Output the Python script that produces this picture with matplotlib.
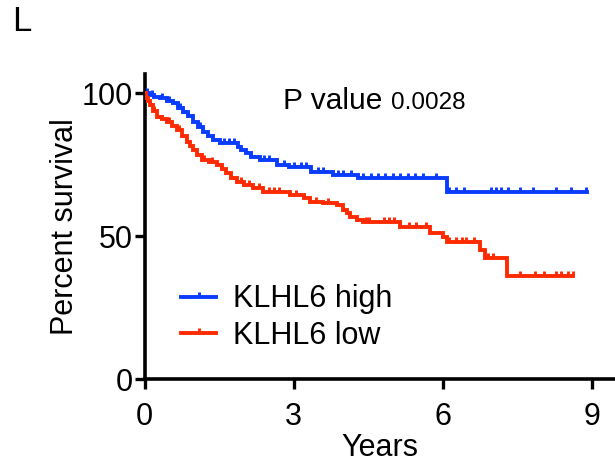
import numpy as np
import matplotlib.pyplot as plt
from matplotlib.lines import Line2D

plt.rcParams['font.family'] = ['Liberation Sans', 'DejaVu Sans']

# KLHL6 high: step times (years) and survival (%) after each step
high_t = [0, 0.1, 0.2, 0.31, 0.45, 0.58, 0.68, 0.78, 0.88, 0.98, 1.08, 1.18, 1.28,
          1.38, 1.52, 1.88, 1.95, 2.05, 2.15, 2.32, 2.66, 2.9, 3.36, 3.80, 4.30, 6.08]
high_s = [100, 99.3, 98.8, 98.2, 97.2, 96.5, 95, 93.6, 92, 90.1, 88.3, 86.6, 85.2,
          83.7, 82.5, 81.2, 80.2, 79, 77.8, 76.7, 74.9, 74.3, 72.6, 71.4, 70.2, 65.6]
high_end = 8.9
high_cens = [0.05, 0.15, 0.35, 0.5, 0.72, 1.12, 1.6, 1.7, 1.8, 2.4, 2.5, 2.8, 3.0,
             3.15, 3.25, 3.5, 3.6, 3.9, 4.0, 4.15, 4.4, 4.55, 4.7, 4.85, 5.0, 5.15,
             5.3, 5.45, 5.6, 5.87, 6.13, 6.27, 6.44, 6.98, 7.08, 7.18, 7.31, 7.55,
             7.82, 8.29, 8.59, 8.89]

# KLHL6 low
low_t = [0, 0.03, 0.06, 0.11, 0.18, 0.25, 0.35, 0.45, 0.55, 0.65, 0.75, 0.85, 0.92,
         0.98, 1.06, 1.15, 1.3, 1.45, 1.55, 1.65, 1.75, 1.86, 2.0, 2.19, 2.39, 2.93,
         3.2, 3.33, 3.6, 3.87, 4.0, 4.07, 4.13, 4.27, 4.4, 5.14, 5.74, 6.01, 6.08,
         6.75, 6.85, 7.29]
low_s = [100, 98.5, 97.2, 95.9, 93.8, 91.8, 91, 90.1, 88.7, 87.2, 85.2, 83.1, 81.6,
         80.2, 78.5, 76.7, 75.8, 74.9, 73.4, 72.0, 70.5, 69.1, 68, 66.7, 65.6, 64.4,
         63.2, 62.1, 61.5, 60.9, 59.2, 58, 56.8, 55.7, 55.1, 53.1, 51.0, 49.8, 48.1,
         45.2, 42.2, 36.1]
low_end = 8.63
low_cens = [0.2, 0.5, 0.7, 1.2, 1.35, 1.95, 2.1, 2.3, 2.5, 2.6, 2.7, 3.05, 3.45, 3.7,
            4.45, 4.52, 4.82, 4.92, 5.03, 5.33, 5.46, 5.66, 6.13, 6.27, 6.4, 6.47,
            6.64, 6.91, 7.01, 7.55, 7.85, 8.05, 8.29, 8.39, 8.52, 8.63]

labels = ['KLHL6 high', 'KLHL6 low']
colors = ['#0a3cff', '#ff2a00']

tick_up = [(0, 0), (0, 1)]


def draw_km(ax, t, s, end, cens, color):
    t = np.array(t + [end])
    s = np.array(s + [s[-1]])
    ax.step(t, s, where='post', color=color, lw=2.8, solid_joinstyle='miter',
            zorder=3)
    idx = np.searchsorted(t, cens, side='right') - 1
    ax.plot(cens, s[idx], ls='none', marker=tick_up, ms=7.5, mew=2.1,
            color=color, zorder=3)


fig = plt.figure(figsize=(6.15, 4.63), dpi=100)
ax = fig.add_axes([0.235, 0.1814, 0.765, 0.659])

draw_km(ax, high_t, high_s, high_end, high_cens, colors[0])
draw_km(ax, low_t, low_s, low_end, low_cens, colors[1])

ax.set_xlim(0, 9.47)
ax.set_ylim(0, 106.8)
ax.set_xticks([0, 3, 6, 9])
ax.set_yticks([0, 50, 100])
for sp in ['top', 'right']:
    ax.spines[sp].set_visible(False)
for sp in ['left', 'bottom']:
    ax.spines[sp].set_linewidth(2.6)
ax.tick_params(width=2.4, length=7.5, labelsize=22, direction='out')
ax.tick_params(axis='x', pad=9)
ax.tick_params(axis='y', pad=1)

ax.set_xlabel('Years', fontsize=22, labelpad=0.5)
ax.set_ylabel('Percent survival', fontsize=22, labelpad=1)

ax.text(0.295, 0.885, 'P value', transform=ax.transAxes, fontsize=21.5,
        ha='left', va='baseline')
ax.text(0.523, 0.885, '0.0028', transform=ax.transAxes, fontsize=17.5,
        ha='left', va='baseline')

handles = [Line2D([], [], color=c, lw=2.8, marker=tick_up, ms=7.5, mew=2.1)
           for c in colors]
ax.legend(handles, labels, loc='center left', bbox_to_anchor=(0.078, 0.2016),
          frameon=False, fontsize=22, handlelength=1.15, handletextpad=0.55,
          labelspacing=0.2, borderpad=0, borderaxespad=0, numpoints=1)

fig.text(0.019, 0.932, 'L', fontsize=25, ha='left', va='baseline')

fig.savefig('out.png', dpi=100)
